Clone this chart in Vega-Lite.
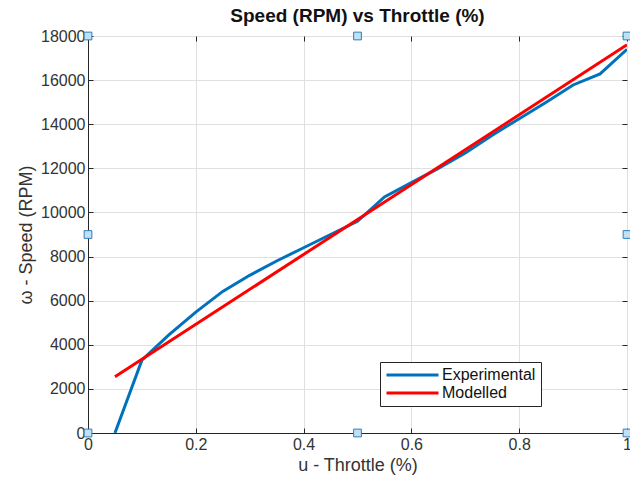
{
  "$schema": "https://vega.github.io/schema/vega-lite/v6.json",
  "autosize": "none",
  "width": 539,
  "height": 397,
  "padding": {"left": 88, "top": 36, "right": 3, "bottom": 56},
  "background": "white",
  "config": {
    "font": "Liberation Sans",
    "view": {"stroke": "#262626", "strokeWidth": 1},
    "axis": {
      "labelFont": "Liberation Sans",
      "titleFont": "Liberation Sans",
      "labelFontSize": 16,
      "titleFontSize": 18,
      "titleFontWeight": "normal",
      "labelColor": "#333333",
      "titleColor": "#333333",
      "domainColor": "#262626",
      "tickColor": "#262626",
      "gridColor": "#e0e0e0",
      "gridWidth": 1,
      "labelFlush": false
    }
  },
  "title": {
    "text": "Speed (RPM) vs Throttle (%)",
    "font": "Liberation Sans",
    "fontSize": 19,
    "fontWeight": "bold",
    "color": "#111111",
    "offset": 2
  },
  "resolve": {"axis": {"x": "independent", "y": "independent"}},
  "datasets": {
    "lines": [
      {"u": 0.05, "rpm": 0, "series": "Experimental"},
      {"u": 0.10, "rpm": 3300, "series": "Experimental"},
      {"u": 0.15, "rpm": 4450, "series": "Experimental"},
      {"u": 0.20, "rpm": 5480, "series": "Experimental"},
      {"u": 0.25, "rpm": 6420, "series": "Experimental"},
      {"u": 0.30, "rpm": 7150, "series": "Experimental"},
      {"u": 0.35, "rpm": 7800, "series": "Experimental"},
      {"u": 0.40, "rpm": 8400, "series": "Experimental"},
      {"u": 0.45, "rpm": 9000, "series": "Experimental"},
      {"u": 0.50, "rpm": 9600, "series": "Experimental"},
      {"u": 0.55, "rpm": 10700, "series": "Experimental"},
      {"u": 0.60, "rpm": 11350, "series": "Experimental"},
      {"u": 0.65, "rpm": 12000, "series": "Experimental"},
      {"u": 0.70, "rpm": 12700, "series": "Experimental"},
      {"u": 0.75, "rpm": 13500, "series": "Experimental"},
      {"u": 0.80, "rpm": 14250, "series": "Experimental"},
      {"u": 0.85, "rpm": 15000, "series": "Experimental"},
      {"u": 0.90, "rpm": 15780, "series": "Experimental"},
      {"u": 0.95, "rpm": 16280, "series": "Experimental"},
      {"u": 1.00, "rpm": 17400, "series": "Experimental"},
      {"u": 0.05, "rpm": 2550, "series": "Modelled"},
      {"u": 1.00, "rpm": 17600, "series": "Modelled"}
    ],
    "handles": [
      {"u": 0, "rpm": 0}, {"u": 0.5, "rpm": 0}, {"u": 1, "rpm": 0},
      {"u": 0, "rpm": 9000}, {"u": 1, "rpm": 9000},
      {"u": 0, "rpm": 18000}, {"u": 0.5, "rpm": 18000}, {"u": 1, "rpm": 18000}
    ]
  },
  "layer": [
    {
      "data": {"name": "lines"},
      "mark": {"type": "line", "strokeWidth": 3, "clip": true},
      "encoding": {
        "x": {
          "field": "u", "type": "quantitative",
          "scale": {"domain": [0, 1], "nice": false},
          "axis": {"values": [0, 0.2, 0.4, 0.6, 0.8, 1], "format": "~g", "title": "u - Throttle (%)", "tickSize": -5, "labelPadding": 8, "titlePadding": 4}
        },
        "y": {
          "field": "rpm", "type": "quantitative",
          "scale": {"domain": [0, 18000], "nice": false},
          "axis": {"values": [0, 2000, 4000, 6000, 8000, 10000, 12000, 14000, 16000, 18000], "format": "d", "title": "ω - Speed (RPM)", "tickSize": -5, "labelPadding": 8, "titlePadding": 5}
        },
        "color": {
          "field": "series", "type": "nominal",
          "scale": {"domain": ["Experimental", "Modelled"], "range": ["#0072BD", "#FF0000"]},
          "legend": {
            "title": null,
            "orient": "none",
            "legendX": 292,
            "legendY": 326,
            "symbolType": "M-1,0H7",
            "symbolSize": 169,
            "symbolStrokeWidth": 3,
            "labelFontSize": 16,
            "labelFont": "Liberation Sans",
            "labelColor": "#111111",
            "strokeColor": "#262626",
            "fillColor": "white",
            "padding": 5,
            "rowPadding": 2,
            "labelOffset": 41
          }
        }
      }
    },
    {
      "data": {"name": "handles"},
      "mark": {"type": "point", "shape": "square", "size": 60, "filled": true, "fill": "#bfe0f5", "stroke": "#2f7fb8", "strokeWidth": 1, "opacity": 1, "clip": false},
      "encoding": {
        "x": {"field": "u", "type": "quantitative", "axis": {"orient": "top", "values": [0, 0.2, 0.4, 0.6, 0.8, 1], "labels": false, "title": null, "grid": false, "domain": false, "tickSize": -5}},
        "y": {"field": "rpm", "type": "quantitative", "axis": {"orient": "right", "values": [0, 2000, 4000, 6000, 8000, 10000, 12000, 14000, 16000, 18000], "labels": false, "title": null, "grid": false, "domain": false, "tickSize": -5}}
      }
    }
  ]
}
